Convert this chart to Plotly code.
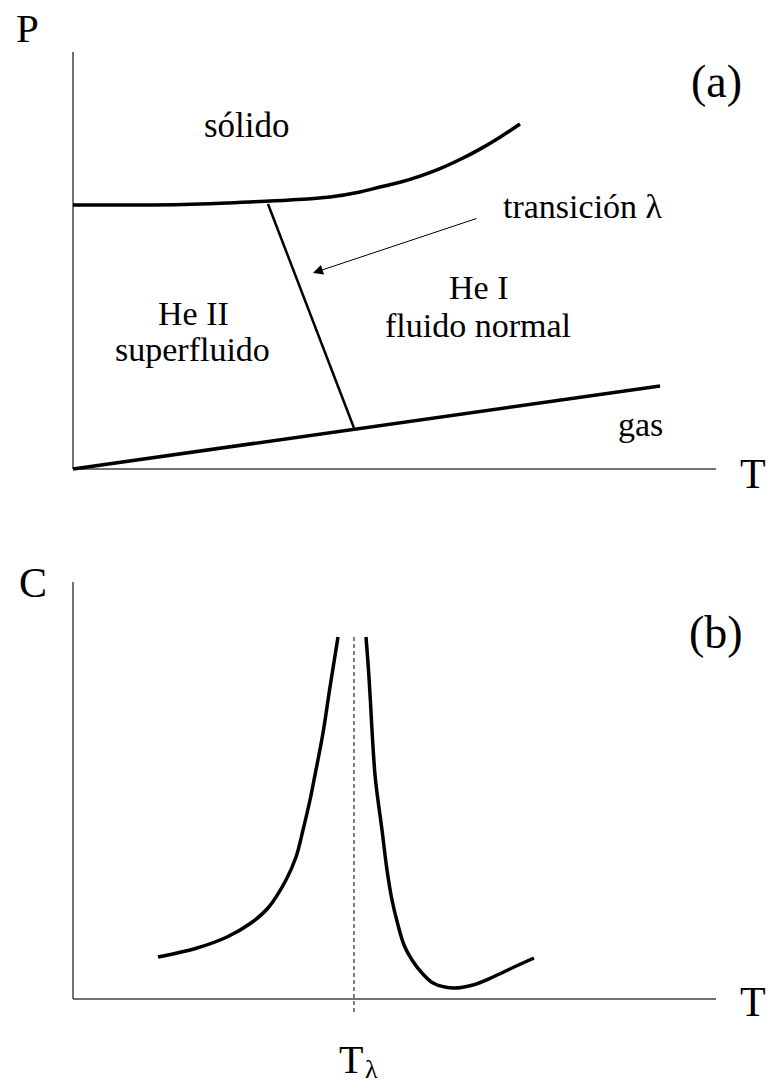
import plotly.graph_objects as go

# ---------------- data (arbitrary units) ----------------
# panel (a): phase diagram P(T)
melt_T = [0, 7.7, 12.7, 17.7, 21.7, 25.7, 28.7, 30.7, 32.7, 34.7, 36.7, 38.7, 40.7, 42.7, 44.7]
melt_P = [26.4, 26.4, 26.5, 26.7, 26.9, 27.2, 27.7, 28.2, 28.67, 29.29, 30.04, 30.95, 31.99, 33.18, 34.5]
lambda_T = [19.5, 28.1]
lambda_P = [26.5, 4.1]
vapor_T = [0, 58.7]
vapor_P = [0, 8.3]
axis_T_max = 64.3
axis_P_max = 41.7

# panel (b): specific heat C(T)
T_lambda = 28.1
heat_left_T = [8.5, 12.4, 15.4, 17.8, 19.5, 21.3, 22.3, 23.0, 23.7, 24.1, 25.0, 25.7, 26.5]
heat_left_C = [4.2, 5.1, 6.2, 7.6, 9.1, 11.9, 14.2, 16.9, 19.9, 21.9, 26.6, 31.2, 36.2]
heat_right_T = [29.3, 29.55, 29.75, 30.0, 30.25, 30.9, 31.4, 31.9, 32.5, 33.1, 33.9, 34.9, 36.0, 38.0, 40.0, 42.0, 43.9, 46.1]
heat_right_C = [36.2, 32.9, 29.6, 25.2, 21.9, 16.9, 12.9, 9.9, 7.4, 5.4, 3.9, 2.6, 1.6, 1.1, 1.4, 2.2, 3.1, 4.1]
dash_C = [36.2, -1.4]
axis_C_max = 41.7

FONT = "Times New Roman, Liberation Serif, Tinos, serif"
AXCOL = "#444444"

fig = go.Figure()

def line(x, y, w, xa="x", ya="y", color="black", dash=None, shape="linear"):
    fig.add_trace(go.Scatter(x=x, y=y, mode="lines", xaxis=xa, yaxis=ya,
                             line=dict(color=color, width=w, dash=dash, shape=shape, smoothing=1.0),
                             hoverinfo="skip", showlegend=False))

# panel (a)
line([0, 0], [0, axis_P_max], 1.5, color=AXCOL)
line([0, axis_T_max], [0, 0], 1.5, color=AXCOL)
line(melt_T, melt_P, 3.5, shape="spline")
line(lambda_T, lambda_P, 2.5)
line(vapor_T, vapor_P, 3.5)

# panel (b)
line([0, 0], [0, axis_C_max], 1.5, "x2", "y2", color=AXCOL)
line([0, axis_T_max], [0, 0], 1.5, "x2", "y2", color=AXCOL)
line(heat_left_T, heat_left_C, 3.5, "x2", "y2", shape="spline")
line(heat_right_T, heat_right_C, 3.5, "x2", "y2", shape="spline")
line([T_lambda, T_lambda], dash_C, 1, "x2", "y2", dash="4px,3px")

ann = []
def text(t, x, y, size, xr="x", yr="y"):
    ann.append(dict(text=t, x=x, y=y, xref=xr, yref=yr, showarrow=False,
                    xanchor="center", yanchor="middle",
                    font=dict(family=FONT, size=size, color="black")))

# panel (a) labels
text("P", -4.6, 44.1, 41)
text("T", 68.0, -0.5, 42)
text("(a)", 64.3, 38.8, 46)
text("sólido", 17.4, 34.35, 35)
text("transición λ", 51.0, 26.3, 34)
text("He I", 40.5, 18.2, 34)
text("fluido normal", 40.5, 14.35, 34)
text("He II", 12.0, 15.55, 34)
text("superfluido", 11.9, 11.95, 34)
text("gas", 56.7, 4.45, 34)
ann.append(dict(x=24.0, y=19.6, ax=40.5, ay=25.1, xref="x", yref="y", axref="x", ayref="y",
                showarrow=True, arrowhead=2, arrowsize=2, arrowwidth=1, arrowcolor="black", text=""))

# panel (b) labels
text("C", -4.0, 41.6, 42, "x2", "y2")
text("T", 68.0, -0.3, 42, "x2", "y2")
text("(b)", 64.3, 36.6, 46, "x2", "y2")
text("T", 27.8, -6.0, 40, "x2", "y2")
text("λ", 29.8, -7.0, 26, "x2", "y2")

split = 1 - 530 / 1084
ax_common = dict(visible=False, showgrid=False, zeroline=False, fixedrange=True)
fig.update_layout(
    width=769, height=1084, autosize=False,
    margin=dict(l=0, r=0, t=0, b=0),
    paper_bgcolor="white", plot_bgcolor="white",
    xaxis=dict(range=[-7.3, 69.6], domain=[0, 1], anchor="y", **ax_common),
    yaxis=dict(range=[-6.1, 46.9], domain=[split, 1], anchor="x", **ax_common),
    xaxis2=dict(range=[-7.3, 69.6], domain=[0, 1], anchor="y2", **ax_common),
    yaxis2=dict(range=[-8.5, 46.9], domain=[0, split], anchor="x2", **ax_common),
    annotations=ann,
    showlegend=False,
)

fig.write_html(
    "out.html",
    config={"displayModeBar": False},
    post_script="document.body.style.margin='0';document.body.style.overflow='hidden';",
)
